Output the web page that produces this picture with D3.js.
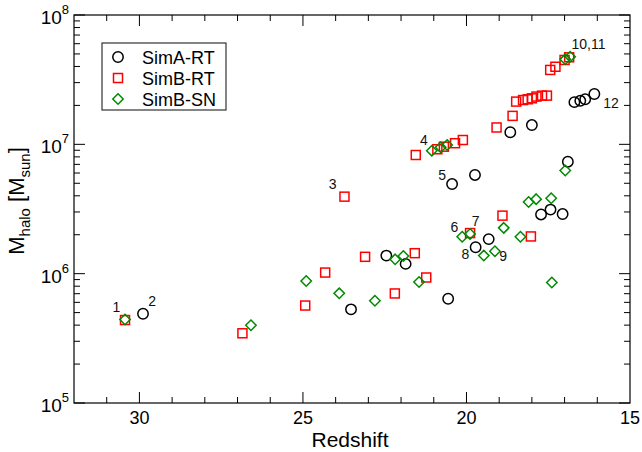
<!DOCTYPE html>
<html><head><meta charset="utf-8">
<script src="https://cdn.jsdelivr.net/npm/d3@7"></script>
<style>body{margin:0;background:#fff}svg{display:block;font-family:"Liberation Sans",Arial,sans-serif}</style>
</head><body><svg id="c" width="642" height="452"></svg>
<script>
// ---- data ----
const simA_z = [29.89, 23.53, 22.45, 21.86, 20.56, 20.44, 19.74, 19.72, 19.32, 18.66, 18.00, 17.72, 17.43, 17.06, 16.90, 16.70, 16.52, 16.37, 16.09];
const simA_m = [4.9e5, 5.3e5, 1.38e6, 1.19e6, 6.4e5, 4.93e6, 5.8e6, 1.6e6, 1.85e6, 1.24e7, 1.41e7, 2.87e6, 3.13e6, 2.89e6, 7.34e6, 2.12e7, 2.17e7, 2.23e7, 2.45e7];
const simBRT_z = [30.44, 26.85, 24.93, 24.32, 23.73, 23.10, 22.19, 21.58, 21.55, 21.23, 20.89, 20.69, 20.35, 20.11, 19.89, 19.08, 18.90, 18.59, 18.48, 18.27, 18.13, 18.03, 18.00, 17.86, 17.69, 17.54, 17.44, 17.28, 17.00, 16.86];
const simBRT_m = [4.38e5, 3.46e5, 5.67e5, 1.02e6, 3.94e6, 1.35e6, 7.03e5, 1.44e6, 8.27e6, 9.34e5, 9.16e6, 9.59e6, 1.02e7, 1.08e7, 2.06e6, 1.35e7, 2.81e6, 1.66e7, 2.14e7, 2.20e7, 2.23e7, 1.94e6, 2.27e7, 2.34e7, 2.38e7, 2.38e7, 3.76e7, 3.98e7, 4.49e7, 4.71e7];
const simBSN_z = [30.44, 26.59, 24.90, 23.89, 22.80, 22.18, 21.93, 21.45, 21.06, 20.79, 20.59, 20.13, 19.89, 19.47, 19.13, 18.86, 18.35, 18.10, 17.87, 17.41, 17.39, 16.98, 16.98, 16.83];
const simBSN_m = [4.42e5, 3.99e5, 8.78e5, 7.05e5, 6.17e5, 1.29e6, 1.37e6, 8.62e5, 8.93e6, 9.48e6, 9.88e6, 1.93e6, 2.03e6, 1.38e6, 1.49e6, 2.26e6, 1.93e6, 3.58e6, 3.77e6, 3.83e6, 8.55e5, 6.28e6, 4.54e7, 4.76e7];
const seriesNames = ["SimA-RT", "SimB-RT", "SimB-SN"];
const annoText = ["1", "2", "3", "4", "5", "6", "7", "8", "9", "10,11", "12"];
const annoZ = [30.70, 29.61, 24.09, 21.30, 20.74, 20.37, 19.72, 20.03, 18.88, 16.27, 15.58];
const annoM = [5.5e5, 6.15e5, 4.93e6, 1.08e7, 5.8e6, 2.31e6, 2.56e6, 1.42e6, 1.38e6, 5.97e7, 2.1e7];
const xTicks = [30, 25, 20, 15];
const xMinor = d3.range(16, 32, 1);
const yExp = [5, 6, 7, 8];
const xLabel = "Redshift";

// ---- layout ----
const L = 74, R = 630, T = 15, B = 403;
const svg = d3.select("#c");
const x = d3.scaleLinear().domain([32, 15]).range([L, R]);
const y = d3.scaleLog().domain([1e5, 1e8]).range([B, T]);
const yMinor = [];
yExp.slice(0, 3).forEach(e => { for (let k = 2; k <= 9; k++) yMinor.push(k * Math.pow(10, e)); });

const MAJ = 11, MIN = 6;
const tg = svg.append("g").attr("stroke", "#000").attr("stroke-width", 1);
// x ticks bottom & top
xMinor.forEach(v => {
  const len = xTicks.includes(v) ? MAJ : MIN;
  tg.append("line").attr("x1", x(v)).attr("x2", x(v)).attr("y1", B).attr("y2", B - len);
  tg.append("line").attr("x1", x(v)).attr("x2", x(v)).attr("y1", T).attr("y2", T + len);
});
// y ticks left & right
yExp.map(e => Math.pow(10, e)).concat(yMinor).forEach(v => {
  const len = yMinor.includes(v) ? MIN : MAJ;
  tg.append("line").attr("y1", y(v)).attr("y2", y(v)).attr("x1", L).attr("x2", L + len);
  tg.append("line").attr("y1", y(v)).attr("y2", y(v)).attr("x1", R).attr("x2", R - len);
});
svg.append("rect").attr("x", L).attr("y", T).attr("width", R - L).attr("height", B - T)
  .attr("fill", "none").attr("stroke", "#000").attr("stroke-width", 1.2);

// x tick labels
svg.append("g").selectAll("text").data(xTicks).join("text")
  .attr("x", d => x(d)).attr("y", 424).attr("text-anchor", "middle")
  .attr("font-size", 18).text(d => d);
// y tick labels
yExp.forEach(e => {
  const t = svg.append("text").attr("x", 69).attr("y", y(Math.pow(10, e)) + 9)
    .attr("text-anchor", "end").attr("font-size", 19);
  t.append("tspan").text("10");
  t.append("tspan").attr("dy", -10).attr("font-size", 13).text(e);
});
// axis titles
svg.append("text").attr("x", (L + R) / 2 - 2).attr("y", 447).attr("text-anchor", "middle")
  .attr("font-size", 21).text(xLabel);
const yl = svg.append("text").attr("transform", "translate(23.5,201) rotate(-90)")
  .attr("text-anchor", "middle").attr("font-size", 22);
yl.append("tspan").text("M");
yl.append("tspan").attr("dy", 6).attr("font-size", 15).text("halo");
yl.append("tspan").attr("dy", -6).text(" [M");
yl.append("tspan").attr("dy", 6).attr("font-size", 15).text("sun");
yl.append("tspan").attr("dy", -6).text("]");

// markers
const sq = 9, dm = 5.2, cr = 5.2;
function circle(g, cx, cy) { g.append("circle").attr("cx", cx).attr("cy", cy).attr("r", cr).attr("fill", "none").attr("stroke", "#000").attr("stroke-width", 1.5); }
function square(g, cx, cy) { g.append("rect").attr("x", cx - sq / 2).attr("y", cy - sq / 2).attr("width", sq).attr("height", sq).attr("fill", "none").attr("stroke", "#ff0000").attr("stroke-width", 1.5); }
function diamond(g, cx, cy) { g.append("path").attr("d", `M${cx},${cy - dm}L${cx + dm},${cy}L${cx},${cy + dm}L${cx - dm},${cy}Z`).attr("fill", "none").attr("stroke", "#008a00").attr("stroke-width", 1.5); }

const pg = svg.append("g");
simA_z.forEach((z, i) => circle(pg, x(z), y(simA_m[i])));
simBRT_z.forEach((z, i) => square(pg, x(z), y(simBRT_m[i])));
simBSN_z.forEach((z, i) => diamond(pg, x(z), y(simBSN_m[i])));

// annotations
annoText.forEach((t, i) => {
  svg.append("text").attr("x", x(annoZ[i])).attr("y", y(annoM[i])).attr("dy", "0.36em")
    .attr("text-anchor", "middle").attr("font-size", 14).attr("fill", "#111").text(t);
});

// legend
const lg = svg.append("g");
lg.append("rect").attr("x", 102).attr("y", 43).attr("width", 124).attr("height", 67)
  .attr("fill", "#fff").attr("stroke", "#333").attr("stroke-width", 1.2);
const drawers = [circle, square, diamond];
seriesNames.forEach((n, i) => {
  const yy = 57 + i * 21;
  drawers[i](lg, 118, yy);
  lg.append("text").attr("x", 142).attr("y", yy + 6.5).attr("font-size", 18).text(n);
});
</script></body></html>
